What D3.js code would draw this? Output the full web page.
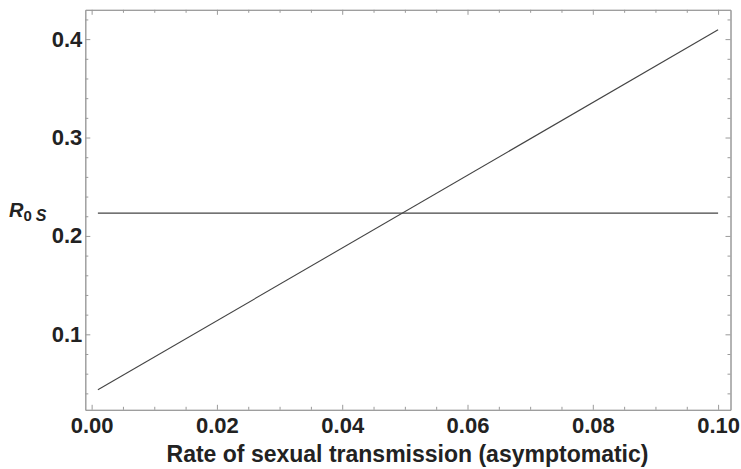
<!DOCTYPE html>
<html>
<head>
<meta charset="utf-8">
<script src="https://cdn.jsdelivr.net/npm/d3@7"></script>
<style>
html,body{margin:0;padding:0;background:#fff;}
svg{display:block;}
</style>
</head>
<body>
<svg id="chart" width="741" height="469"></svg>
<script>
// Data
const rateX = [0.001, 0.1];
const r0sLinear = [0.0436, 0.4095];
const r0sConstant = [0.2232, 0.2232];
const xTickValues = [0, 0.02, 0.04, 0.06, 0.08, 0.10];
const xTickLabels = ["0.00", "0.02", "0.04", "0.06", "0.08", "0.10"];
const yTickValues = [0.1, 0.2, 0.3, 0.4];
const yTickLabels = ["0.1", "0.2", "0.3", "0.4"];
const xDomain = [-0.00101, 0.10198];
const yDomain = [0.0233, 0.4298];

const svg = d3.select("#chart");
const L = 85.3, R = 730.5, T = 9.8, B = 409.8;
const x = d3.scaleLinear().domain(xDomain).range([L, R]);
const y = d3.scaleLinear().domain(yDomain).range([B, T]);

const frameColor = "#9a9a9a";
const textColor = "#222";
const font = "'Liberation Sans', Arial, Helvetica, sans-serif";

const xMinor = d3.range(0, 0.1001, 0.005).filter(v => !xTickValues.some(t => Math.abs(t - v) < 1e-9));
const yMinor = d3.range(0.04, 0.421, 0.02).filter(v => !yTickValues.some(t => Math.abs(t - v) < 1e-9));

const g = svg.append("g");

function drawAxis(axisGen, transform) {
  const a = g.append("g").attr("transform", transform).call(axisGen);
  a.select(".domain").attr("stroke", frameColor).attr("stroke-width", 1);
  a.selectAll(".tick line").attr("stroke", frameColor).attr("stroke-width", 1);
  a.selectAll(".tick text").attr("fill", textColor)
    .style("font-family", font).style("font-size", "22px").style("font-weight", "bold");
  return a;
}

drawAxis(d3.axisBottom(x).tickValues(xTickValues).tickFormat((d, i) => xTickLabels[i])
  .tickSizeInner(-5).tickSizeOuter(0).tickPadding(8), `translate(0,${B})`);
drawAxis(d3.axisBottom(x).tickValues(xMinor).tickFormat("").tickSizeInner(-3).tickSizeOuter(0), `translate(0,${B})`);
drawAxis(d3.axisTop(x).tickValues(xTickValues).tickFormat("").tickSizeInner(-5).tickSizeOuter(0), `translate(0,${T})`);
drawAxis(d3.axisTop(x).tickValues(xMinor).tickFormat("").tickSizeInner(-3).tickSizeOuter(0), `translate(0,${T})`);
drawAxis(d3.axisLeft(y).tickValues(yTickValues).tickFormat((d, i) => yTickLabels[i])
  .tickSizeInner(-5).tickSizeOuter(0).tickPadding(3), `translate(${L},0)`);
drawAxis(d3.axisLeft(y).tickValues(yMinor).tickFormat("").tickSizeInner(-3).tickSizeOuter(0), `translate(${L},0)`);
drawAxis(d3.axisRight(y).tickValues(yTickValues).tickFormat("").tickSizeInner(-5).tickSizeOuter(0), `translate(${R},0)`);
drawAxis(d3.axisRight(y).tickValues(yMinor).tickFormat("").tickSizeInner(-3).tickSizeOuter(0), `translate(${R},0)`);

const lineGen = d3.line().x(d => x(d[0])).y(d => y(d[1]));
[r0sLinear, r0sConstant].forEach(series => {
  g.append("path")
    .datum(rateX.map((v, i) => [v, series[i]]))
    .attr("d", lineGen)
    .attr("fill", "none")
    .attr("stroke", "#444")
    .attr("stroke-width", 1.1);
});

svg.append("text")
  .attr("x", 407.5)
  .attr("y", 462)
  .attr("text-anchor", "middle")
  .attr("fill", textColor)
  .style("font-family", font).style("font-size", "23px").style("font-weight", "bold")
  .text("Rate of sexual transmission (asymptomatic)");

const yt = svg.append("text")
  .attr("x", 9)
  .attr("y", 216.5)
  .attr("fill", textColor)
  .style("font-family", font).style("font-weight", "bold");
yt.append("tspan").style("font-style", "italic").style("font-size", "20px").text("R");
yt.append("tspan").attr("dy", 4).style("font-size", "15px").text("0");
yt.append("tspan").attr("dx", 4).style("font-style", "italic").style("font-size", "16px").text("S");
</script>
</body>
</html>
